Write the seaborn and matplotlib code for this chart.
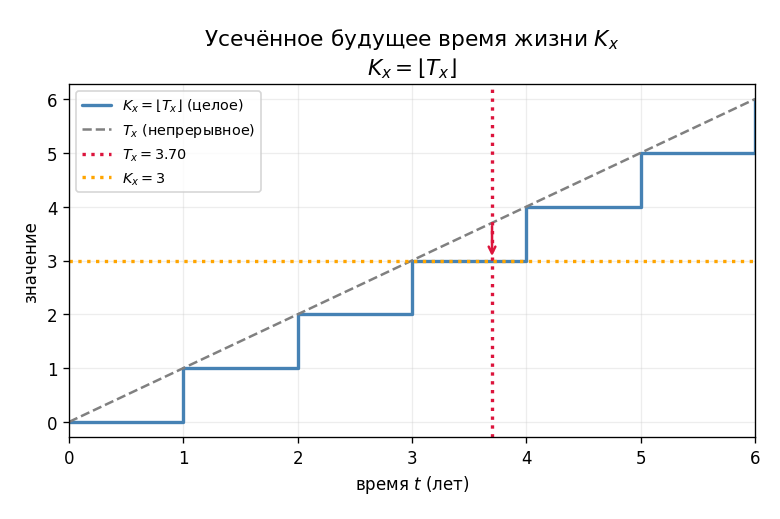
import numpy as np
import pandas as pd
import matplotlib
matplotlib.use("Agg")
import matplotlib.pyplot as plt
import seaborn as sns

# данные
t_points = [0, 1, 2, 3, 4, 5, 6]
k_values = [0, 1, 2, 3, 4, 5, 6]
t_line = [0, 6]
tx_value = 3.70
kx_value = 3

sns.set_style("ticks", rc={"axes.edgecolor": "black", "text.color": "black",
                           "axes.labelcolor": "black", "xtick.color": "black",
                           "ytick.color": "black"})
plt.rcParams['font.family'] = ['DejaVu Sans']

fig, ax = plt.subplots(figsize=(6.5, 4.3333), dpi=120)

df_step = pd.DataFrame({"t": t_points, "k": k_values})
sns.lineplot(data=df_step, x="t", y="k", ax=ax, drawstyle="steps-post",
             color="steelblue", lw=2, label=r"$K_x = \lfloor T_x \rfloor$ (целое)")
sns.lineplot(x=t_line, y=t_line, ax=ax, color="gray", ls="--", lw=1.5,
             label=r"$T_x$ (непрерывное)")
ax.axvline(tx_value, color="crimson", ls=":", lw=2, label=rf"$T_x = {tx_value:.2f}$")
ax.axhline(kx_value, color="orange", ls=":", lw=2, label=rf"$K_x = {kx_value}$")
ax.annotate("", xy=(tx_value, kx_value + 0.02), xytext=(tx_value, tx_value),
            arrowprops=dict(arrowstyle="->", color="crimson", lw=1.5))

ax.set_xlim(0, 6)
ax.set_ylim(-0.28, 6.28)
ax.grid(True, alpha=0.35)
ax.set_xlabel(r"время $t$ (лет)")
ax.set_ylabel("значение")
ax.set_title("Усечённое будущее время жизни $K_x$\n" + r"$K_x = \lfloor T_x \rfloor$", fontsize=13)
ax.legend(loc="upper left", fontsize=8.6)

fig.subplots_adjust(left=69 / 780, right=755 / 780, top=1 - 85 / 520, bottom=1 - 438 / 520)
fig.savefig("out.png", dpi=120)
